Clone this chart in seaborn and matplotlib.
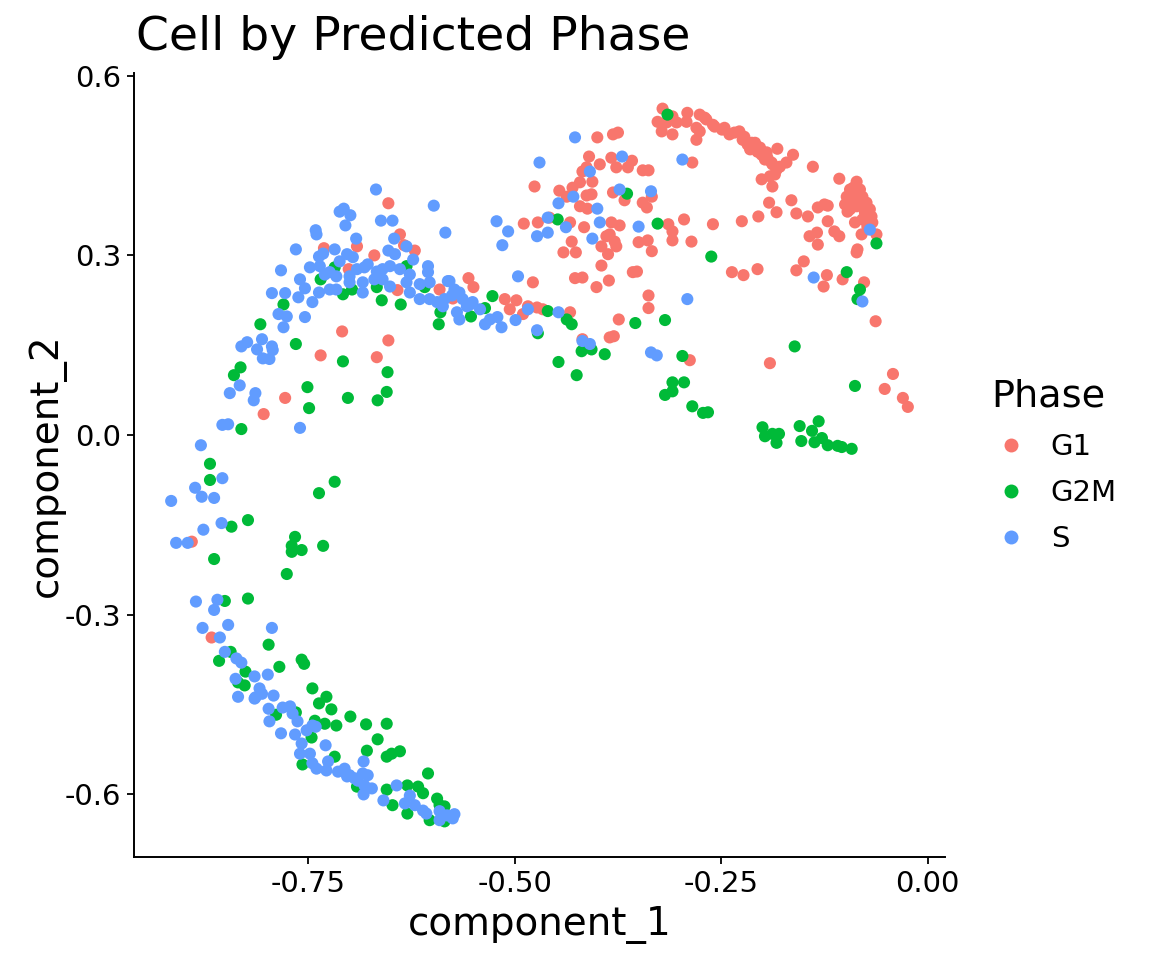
import numpy as np
import pandas as pd
import matplotlib
matplotlib.use("Agg")
import matplotlib.pyplot as plt
import seaborn as sns

# cell cycle phase scores
g1_pts = [
    (-0.653, 0.387), (-0.639, 0.335), (-0.634, 0.317), (-0.621, 0.308), (-0.691, 0.315), (-0.731, 0.312),
    (-0.670, 0.300), (-0.701, 0.277), (-0.642, 0.242), (-0.591, 0.243), (-0.709, 0.173), (-0.653, 0.158),
    (-0.735, 0.133), (-0.667, 0.130), (-0.778, 0.062), (-0.804, 0.035), (-0.891, -0.178), (-0.867, -0.338),
    (-0.321, 0.545), (-0.327, 0.523), (-0.316, 0.522), (-0.309, 0.532), (-0.304, 0.522), (-0.322, 0.507),
    (-0.309, 0.502), (-0.291, 0.538), (-0.276, 0.535), (-0.268, 0.527), (-0.260, 0.518), (-0.280, 0.513),
    (-0.280, 0.493), (-0.292, 0.523), (-0.400, 0.497), (-0.381, 0.502), (-0.375, 0.505), (-0.285, 0.455),
    (-0.410, 0.465), (-0.383, 0.463), (-0.377, 0.447), (-0.363, 0.447), (-0.358, 0.458), (-0.397, 0.452),
    (-0.418, 0.440), (-0.413, 0.447), (-0.345, 0.442), (-0.338, 0.442), (-0.476, 0.415), (-0.406, 0.423),
    (-0.421, 0.422), (-0.446, 0.408), (-0.437, 0.398), (-0.430, 0.413), (-0.413, 0.400), (-0.407, 0.402),
    (-0.381, 0.405), (-0.367, 0.392), (-0.334, 0.398), (-0.421, 0.382), (-0.412, 0.378), (-0.345, 0.388),
    (-0.340, 0.380), (-0.458, 0.363), (-0.489, 0.353), (-0.472, 0.355), (-0.433, 0.355), (-0.416, 0.347),
    (-0.383, 0.355), (-0.373, 0.350), (-0.385, 0.335), (-0.389, 0.332), (-0.379, 0.323), (-0.377, 0.315),
    (-0.395, 0.315), (-0.387, 0.302), (-0.395, 0.283), (-0.431, 0.323), (-0.441, 0.305), (-0.426, 0.305),
    (-0.350, 0.322), (-0.339, 0.325), (-0.334, 0.307), (-0.314, 0.352), (-0.309, 0.340), (-0.309, 0.325),
    (-0.295, 0.360), (-0.286, 0.323), (-0.260, 0.352), (-0.427, 0.262), (-0.418, 0.263), (-0.401, 0.247),
    (-0.386, 0.258), (-0.357, 0.272), (-0.352, 0.273), (-0.478, 0.255), (-0.338, 0.233), (-0.338, 0.212),
    (-0.374, 0.193), (-0.385, 0.163), (-0.380, 0.165), (-0.288, 0.125), (-0.433, 0.205), (-0.556, 0.262),
    (-0.550, 0.247), (-0.575, 0.228), (-0.512, 0.227), (-0.498, 0.225), (-0.506, 0.210), (-0.484, 0.215),
    (-0.473, 0.213), (-0.466, 0.210), (-0.490, 0.202), (-0.418, 0.160),
    (-0.249, 0.510), (-0.240, 0.502), (-0.228, 0.507), (-0.224, 0.493), (-0.209, 0.488), (-0.206, 0.473),
    (-0.195, 0.472), (-0.189, 0.455), (-0.183, 0.443), (-0.179, 0.448), (-0.171, 0.455), (-0.163, 0.468),
    (-0.182, 0.478), (-0.139, 0.448), (-0.201, 0.427), (-0.188, 0.415), (-0.215, 0.477), (-0.197, 0.460),
    (-0.191, 0.432), (-0.185, 0.435), (-0.276, 0.507), (-0.270, 0.530), (-0.258, 0.515), (-0.246, 0.513),
    (-0.234, 0.505), (-0.222, 0.498), (-0.213, 0.488), (-0.203, 0.480), (-0.201, 0.468), (-0.194, 0.463),
    (-0.188, 0.452), (-0.218, 0.485),
    (-0.107, 0.428), (-0.086, 0.423), (-0.082, 0.410), (-0.079, 0.398), (-0.074, 0.388), (-0.070, 0.377),
    (-0.068, 0.365), (-0.067, 0.355), (-0.092, 0.393), (-0.098, 0.398), (-0.097, 0.373), (-0.086, 0.382),
    (-0.079, 0.360), (-0.073, 0.348), (-0.062, 0.335), (-0.088, 0.355), (-0.080, 0.335), (-0.094, 0.410),
    (-0.088, 0.402), (-0.082, 0.385), (-0.076, 0.372), (-0.094, 0.377), (-0.100, 0.385), (-0.075, 0.368),
    (-0.070, 0.352), (-0.090, 0.413),
    (-0.192, 0.388), (-0.183, 0.372), (-0.165, 0.392), (-0.159, 0.370), (-0.145, 0.365), (-0.133, 0.380),
    (-0.125, 0.385), (-0.121, 0.383), (-0.121, 0.357), (-0.143, 0.332), (-0.134, 0.338), (-0.133, 0.318),
    (-0.113, 0.340), (-0.107, 0.332), (-0.205, 0.365), (-0.225, 0.357), (-0.086, 0.305), (-0.085, 0.310),
    (-0.150, 0.290), (-0.159, 0.275), (-0.206, 0.277), (-0.237, 0.272), (-0.223, 0.267), (-0.122, 0.267),
    (-0.126, 0.248), (-0.103, 0.260), (-0.077, 0.255), (-0.063, 0.190), (-0.042, 0.102), (-0.052, 0.077),
    (-0.030, 0.062), (-0.024, 0.047), (-0.191, 0.120),
]

g2m_pts = [
    (-0.718, 0.280), (-0.735, 0.260), (-0.708, 0.235), (-0.697, 0.243), (-0.667, 0.247), (-0.661, 0.225),
    (-0.638, 0.218), (-0.631, 0.282), (-0.609, 0.247), (-0.590, 0.205), (-0.592, 0.185), (-0.780, 0.218),
    (-0.808, 0.185), (-0.765, 0.152), (-0.708, 0.123), (-0.654, 0.105), (-0.655, 0.072), (-0.666, 0.058),
    (-0.702, 0.062), (-0.751, 0.080), (-0.749, 0.045), (-0.832, 0.113), (-0.840, 0.100), (-0.831, 0.010),
    (-0.869, -0.048),
    (-0.364, 0.403), (-0.448, 0.360), (-0.327, 0.353), (-0.262, 0.298), (-0.527, 0.232), (-0.536, 0.212),
    (-0.553, 0.198), (-0.460, 0.207), (-0.472, 0.170), (-0.437, 0.193), (-0.431, 0.185), (-0.354, 0.187),
    (-0.318, 0.192), (-0.419, 0.140), (-0.407, 0.143), (-0.391, 0.135), (-0.447, 0.122), (-0.425, 0.100),
    (-0.297, 0.132), (-0.309, 0.088), (-0.295, 0.088), (-0.315, 0.535),
    (-0.098, 0.272), (-0.062, 0.320), (-0.082, 0.243), (-0.085, 0.227),
    (-0.161, 0.148), (-0.088, 0.082), (-0.318, 0.067), (-0.309, 0.073), (-0.285, 0.048), (-0.272, 0.037),
    (-0.266, 0.038), (-0.200, 0.013), (-0.197, -0.002), (-0.188, 0.002), (-0.180, 0.002), (-0.183, -0.013),
    (-0.155, 0.015), (-0.140, 0.007), (-0.132, 0.023), (-0.153, -0.010), (-0.137, -0.012), (-0.128, -0.005),
    (-0.121, -0.017), (-0.109, -0.018), (-0.104, -0.020), (-0.092, -0.023),
    (-0.869, -0.075), (-0.718, -0.078), (-0.737, -0.097), (-0.823, -0.142), (-0.843, -0.153), (-0.864, -0.207),
    (-0.766, -0.170), (-0.770, -0.185), (-0.770, -0.195), (-0.758, -0.192), (-0.732, -0.185), (-0.776, -0.232),
    (-0.851, -0.277), (-0.823, -0.273), (-0.798, -0.350), (-0.844, -0.362), (-0.858, -0.377), (-0.826, -0.395),
    (-0.835, -0.413), (-0.827, -0.418), (-0.785, -0.387), (-0.758, -0.375), (-0.755, -0.382), (-0.745, -0.423),
    (-0.728, -0.437), (-0.737, -0.448), (-0.722, -0.458), (-0.699, -0.470), (-0.680, -0.483), (-0.655, -0.482),
    (-0.789, -0.467), (-0.765, -0.463), (-0.742, -0.477), (-0.730, -0.482), (-0.716, -0.485),
    (-0.666, -0.508), (-0.679, -0.527), (-0.655, -0.537), (-0.649, -0.532), (-0.639, -0.528), (-0.746, -0.505),
    (-0.718, -0.537), (-0.757, -0.550), (-0.691, -0.587), (-0.605, -0.565), (-0.655, -0.592), (-0.630, -0.585),
    (-0.617, -0.587), (-0.611, -0.598), (-0.648, -0.618), (-0.630, -0.632), (-0.594, -0.607), (-0.591, -0.618),
    (-0.585, -0.620), (-0.603, -0.643), (-0.585, -0.645),
]

s_pts = [
    (-0.668, 0.410), (-0.598, 0.383), (-0.712, 0.373), (-0.707, 0.378), (-0.699, 0.367), (-0.662, 0.358),
    (-0.648, 0.358), (-0.705, 0.350), (-0.741, 0.342), (-0.740, 0.335), (-0.584, 0.338), (-0.692, 0.328),
    (-0.646, 0.328), (-0.765, 0.310), (-0.718, 0.310), (-0.631, 0.315), (-0.737, 0.298), (-0.732, 0.303),
    (-0.703, 0.302), (-0.696, 0.297), (-0.653, 0.308), (-0.645, 0.302), (-0.736, 0.282), (-0.678, 0.285),
    (-0.660, 0.277), (-0.651, 0.282), (-0.783, 0.275), (-0.724, 0.272), (-0.716, 0.265), (-0.700, 0.265),
    (-0.691, 0.277), (-0.667, 0.273), (-0.639, 0.277), (-0.605, 0.282), (-0.605, 0.272), (-0.623, 0.293),
    (-0.716, 0.243), (-0.700, 0.255), (-0.684, 0.255), (-0.660, 0.260), (-0.651, 0.248), (-0.631, 0.255),
    (-0.627, 0.238), (-0.615, 0.227), (-0.594, 0.222), (-0.587, 0.215), (-0.581, 0.257), (-0.794, 0.237),
    (-0.778, 0.237), (-0.762, 0.230), (-0.754, 0.245), (-0.745, 0.222), (-0.737, 0.238), (-0.684, 0.238),
    (-0.786, 0.202), (-0.776, 0.198), (-0.754, 0.197), (-0.780, 0.180), (-0.831, 0.148), (-0.824, 0.155),
    (-0.806, 0.160), (-0.812, 0.143), (-0.794, 0.148), (-0.793, 0.142), (-0.805, 0.128), (-0.797, 0.127),
    (-0.833, 0.083), (-0.845, 0.070), (-0.814, 0.070), (-0.816, 0.058), (-0.854, 0.017), (-0.847, 0.018),
    (-0.760, 0.012), (-0.880, -0.017),
    (-0.603, 0.255), (-0.576, 0.233), (-0.563, 0.227), (-0.554, 0.218), (-0.542, 0.210), (-0.530, 0.193),
    (-0.573, 0.243), (-0.585, 0.227), (-0.615, 0.252), (-0.603, 0.227), (-0.627, 0.268), (-0.670, 0.260),
    (-0.682, 0.280), (-0.712, 0.290), (-0.724, 0.243), (-0.730, 0.268), (-0.748, 0.280), (-0.760, 0.260),
    (-0.427, 0.497), (-0.370, 0.465), (-0.470, 0.455), (-0.297, 0.460), (-0.409, 0.440), (-0.429, 0.398),
    (-0.373, 0.410), (-0.335, 0.407), (-0.447, 0.387), (-0.400, 0.378), (-0.460, 0.363), (-0.438, 0.347),
    (-0.397, 0.355), (-0.406, 0.328), (-0.350, 0.348), (-0.522, 0.357), (-0.508, 0.340), (-0.515, 0.317),
    (-0.473, 0.332), (-0.460, 0.338), (-0.496, 0.265), (-0.579, 0.257), (-0.291, 0.227), (-0.567, 0.238),
    (-0.570, 0.205), (-0.567, 0.193), (-0.551, 0.222), (-0.558, 0.215), (-0.536, 0.185), (-0.521, 0.197),
    (-0.516, 0.180), (-0.499, 0.192), (-0.484, 0.210), (-0.447, 0.205), (-0.473, 0.175), (-0.418, 0.157),
    (-0.409, 0.152), (-0.335, 0.138), (-0.328, 0.133),
    (-0.070, 0.343), (-0.138, 0.263), (-0.079, 0.223),
    (-0.854, -0.072), (-0.887, -0.088), (-0.879, -0.103), (-0.864, -0.105), (-0.916, -0.110), (-0.855, -0.147),
    (-0.877, -0.158), (-0.910, -0.180), (-0.896, -0.180), (-0.886, -0.278), (-0.860, -0.275), (-0.864, -0.292),
    (-0.878, -0.322), (-0.847, -0.317), (-0.857, -0.338), (-0.794, -0.322), (-0.851, -0.362), (-0.837, -0.373),
    (-0.831, -0.380), (-0.838, -0.407), (-0.815, -0.403), (-0.799, -0.400), (-0.835, -0.437), (-0.814, -0.438),
    (-0.806, -0.432), (-0.792, -0.435), (-0.798, -0.457), (-0.781, -0.455), (-0.772, -0.453), (-0.769, -0.465),
    (-0.797, -0.478), (-0.763, -0.478), (-0.745, -0.485),
    (-0.809, -0.423), (-0.815, -0.440), (-0.783, -0.498), (-0.766, -0.500), (-0.752, -0.493), (-0.741, -0.487),
    (-0.758, -0.515), (-0.760, -0.532), (-0.748, -0.532), (-0.745, -0.548), (-0.740, -0.557), (-0.729, -0.518),
    (-0.728, -0.560), (-0.726, -0.545), (-0.714, -0.562), (-0.706, -0.557), (-0.700, -0.568), (-0.694, -0.573),
    (-0.684, -0.565), (-0.678, -0.568), (-0.682, -0.585), (-0.673, -0.590), (-0.683, -0.600), (-0.690, -0.577),
    (-0.703, -0.570), (-0.683, -0.545), (-0.643, -0.585), (-0.659, -0.610), (-0.627, -0.602), (-0.633, -0.615),
    (-0.621, -0.618), (-0.611, -0.627), (-0.607, -0.632), (-0.591, -0.628), (-0.582, -0.635), (-0.573, -0.633),
    (-0.575, -0.640), (-0.591, -0.643),
]

phases = ["G1", "G2M", "S"]
phase_colors = ["#F8766D", "#00BA38", "#619CFF"]
x_ticks = [-0.75, -0.50, -0.25, 0.00]
x_labels = ["-0.75", "-0.50", "-0.25", "0.00"]
y_ticks = [-0.6, -0.3, 0.0, 0.3, 0.6]
y_labels = ["-0.6", "-0.3", "0.0", "0.3", "0.6"]

frames = []
for name, pts in zip(phases, [g1_pts, g2m_pts, s_pts]):
    arr = np.array(pts)
    frames.append(pd.DataFrame({"component_1": arr[:, 0], "component_2": arr[:, 1], "Phase": name}))
df = pd.concat(frames, ignore_index=True)

sns.set_style("ticks")
plt.rcParams["font.family"] = ["DejaVu Sans"]
plt.rcParams["axes.unicode_minus"] = False
plt.rcParams["text.color"] = "black"
plt.rcParams["axes.labelcolor"] = "black"

fig = plt.figure(figsize=(11.52, 9.6), dpi=100)
ax = fig.add_axes([134 / 1152, 1 - 857 / 960, (945 - 134) / 1152, (857 - 73) / 960])

sns.scatterplot(data=df, x="component_1", y="component_2", hue="Phase",
                hue_order=phases, palette=phase_colors, s=76, linewidth=0,
                alpha=1, ax=ax)

ax.set_xlim(-0.961, 0.021)
ax.set_ylim(-0.7045, 0.6045)
ax.set_xticks(x_ticks)
ax.set_xticklabels(x_labels)
ax.set_yticks(y_ticks)
ax.set_yticklabels(y_labels)
ax.tick_params(axis="both", labelsize=21, length=5, width=1.3, pad=4,
               colors="black", labelcolor="black")
for side in ["top", "right"]:
    ax.spines[side].set_visible(False)
for side in ["left", "bottom"]:
    ax.spines[side].set_linewidth(1.4)
    ax.spines[side].set_color("black")
ax.set_xlabel("")
ax.set_ylabel("")

fig.text(136 / 1152, 1 - 50 / 960, "Cell by Predicted Phase", fontsize=34,
         ha="left", va="baseline", color="black")
fig.text(539.5 / 1152, 1 - 935 / 960, "component_1", fontsize=28,
         ha="center", va="baseline", color="black")
fig.text(47 / 1152, 1 - 465 / 960, "component_2", fontsize=28,
         ha="center", va="center", rotation=90, color="black")

sns.move_legend(ax, "center left", bbox_to_anchor=(991 / 1152, 1 - 466 / 960),
                bbox_transform=fig.transFigure, frameon=False, title="Phase",
                fontsize=21, title_fontsize=27.5, borderpad=0, borderaxespad=0,
                handlelength=1.4, handletextpad=0.65, labelspacing=0.62,
                markerscale=1.15, alignment="left")
leg = ax.get_legend()
leg.get_title().set_color("black")
for t in leg.get_texts():
    t.set_color("black")

fig.savefig("out.png", dpi=100)
